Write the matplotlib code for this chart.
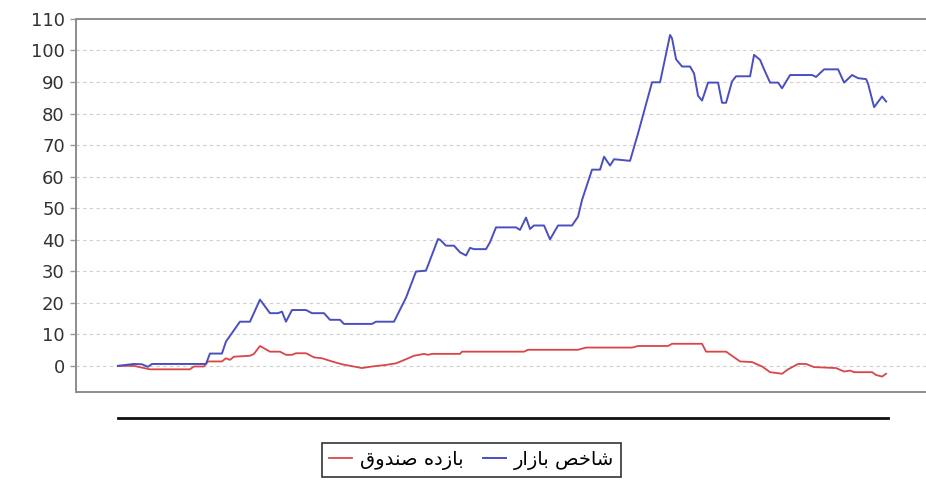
import matplotlib
matplotlib.use("Agg")
import matplotlib.pyplot as plt

# day index (trading day from start) and cumulative return (%)
market_days = [0, 8, 12, 15, 17, 44, 46, 52, 54, 61, 66, 71, 76, 80, 82, 84, 87, 94,
               97, 103, 106, 111, 113, 127, 129, 138, 144, 149, 154, 160, 161, 164,
               168, 171, 174, 176, 178, 184, 186, 189, 199, 201, 204, 206, 208, 213,
               216, 220, 227, 230, 232, 237, 241, 243, 246, 248, 256, 260, 267, 271,
               276, 277, 279, 282, 286, 288, 290, 292, 295, 300, 302, 304, 307, 309,
               316, 318, 321, 323, 326, 330, 332, 336, 347, 349, 353, 360, 363, 367,
               370, 374, 375, 378, 382, 384]
market_vals = [0.0, 0.6, 0.5, -0.3, 0.6, 0.6, 3.9, 3.9, 7.7, 14.0, 14.0, 21.0, 16.7,
               16.7, 17.2, 14.0, 17.7, 17.7, 16.7, 16.7, 14.6, 14.6, 13.3, 13.3, 14.0,
               14.0, 21.6, 29.9, 30.2, 40.2, 40.0, 38.1, 38.1, 36.0, 35.0, 37.4, 37.0,
               37.0, 39.2, 43.9, 43.9, 43.1, 47.0, 43.4, 44.5, 44.5, 40.1, 44.5, 44.5,
               47.3, 52.6, 62.2, 62.2, 66.3, 63.5, 65.5, 65.0, 73.7, 89.9, 89.9, 104.9,
               103.8, 97.2, 94.9, 94.9, 92.7, 85.6, 84.1, 89.8, 89.8, 83.4, 83.4, 90.2,
               91.8, 91.8, 98.6, 97.0, 94.0, 89.8, 89.8, 88.0, 92.2, 92.2, 91.6, 94.0,
               94.0, 89.8, 92.2, 91.2, 90.9, 89.4, 82.0, 85.4, 83.8]

fund_days = [0, 8, 16, 36, 38, 43, 45, 52, 54, 56, 58, 66, 68, 71, 76, 81, 84, 87,
             89, 94, 98, 102, 107, 112, 122, 127, 134, 139, 144, 148, 153, 155, 157,
             171, 172, 203, 205, 230, 234, 257, 260, 275, 277, 292, 294, 304, 311,
             317, 322, 326, 332, 335, 340, 344, 348, 352, 359, 363, 366, 368, 377,
             379, 382, 384]
fund_vals = [0.0, 0.0, -1.1, -1.1, -0.2, -0.2, 1.4, 1.4, 2.4, 1.9, 2.9, 3.2, 3.8, 6.3,
             4.5, 4.5, 3.5, 3.5, 4.0, 4.0, 2.7, 2.4, 1.4, 0.5, -0.7, -0.2, 0.3, 0.8,
             2.1, 3.2, 3.8, 3.5, 3.8, 3.8, 4.5, 4.5, 5.1, 5.1, 5.8, 5.8, 6.3, 6.3, 7.0,
             7.0, 4.5, 4.5, 1.4, 1.2, -0.2, -2.0, -2.5, -1.1, 0.6, 0.6, -0.4, -0.5,
             -0.7, -1.8, -1.5, -2.0, -2.0, -2.9, -3.4, -2.5]

y_ticks = list(range(0, 111, 10))

label_market = "شاخص بازار"
label_fund = "بازده صندوق"

# presentation forms: isolated, final, initial, medial
FORMS = {
    "ا": ("\uFE8D", "\uFE8E", None, None),
    "ب": ("\uFE8F", "\uFE90", "\uFE91", "\uFE92"),
    "خ": ("\uFEA5", "\uFEA6", "\uFEA7", "\uFEA8"),
    "د": ("\uFEA9", "\uFEAA", None, None),
    "ر": ("\uFEAD", "\uFEAE", None, None),
    "ز": ("\uFEAF", "\uFEB0", None, None),
    "ش": ("\uFEB5", "\uFEB6", "\uFEB7", "\uFEB8"),
    "ص": ("\uFEB9", "\uFEBA", "\uFEBB", "\uFEBC"),
    "ق": ("\uFED5", "\uFED6", "\uFED7", "\uFED8"),
    "ن": ("\uFEE5", "\uFEE6", "\uFEE7", "\uFEE8"),
    "ه": ("\uFEE9", "\uFEEA", "\uFEEB", "\uFEEC"),
    "و": ("\uFEED", "\uFEEE", None, None),
}


def shape_rtl(text):
    """Crude Arabic-script shaping + reversal, matplotlib has no bidi."""
    out = []
    for i, ch in enumerate(text):
        if ch not in FORMS:
            out.append(ch)
            continue
        prev = text[i - 1] if i > 0 else ""
        nxt = text[i + 1] if i + 1 < len(text) else ""
        join_prev = prev in FORMS and FORMS[prev][2] is not None
        join_next = FORMS[ch][2] is not None and nxt in FORMS
        iso, fin, ini, med = FORMS[ch]
        if join_prev and join_next:
            out.append(med)
        elif join_prev:
            out.append(fin)
        elif join_next:
            out.append(ini)
        else:
            out.append(iso)
    return "".join(out[::-1])


plt.rcParams["font.family"] = ["DejaVu Sans"]

fig = plt.figure(figsize=(9.26, 4.84), dpi=100)
ax = fig.add_axes([0.082, 0.19, 0.93, 0.771])

ax.plot(fund_days, fund_vals, color="#d8464a", linewidth=1.3, label=shape_rtl(label_fund))
ax.plot(market_days, market_vals, color="#4a4fbf", linewidth=1.4, label=shape_rtl(label_market))

ax.set_xlim(-21, 409.5)
ax.set_ylim(-8.3, 110)
ax.set_yticks(y_ticks)
ax.set_xticks([])
ax.tick_params(axis="y", labelsize=13, labelcolor="#333333", color="#999999",
               length=4, width=1, pad=4)
ax.yaxis.grid(True, color="#cfcfcf", linestyle=(0, (3, 3)), linewidth=0.8)
ax.set_axisbelow(True)
for side in ("left", "bottom", "top"):
    ax.spines[side].set_color("#8c8c8c")
    ax.spines[side].set_linewidth(1.4)
ax.spines["right"].set_visible(False)

# category axis drawn below the plot box
axx = fig.add_axes([0.082, 0.136, 0.93, 0.001], sharex=ax)
for side in ("left", "right", "top"):
    axx.spines[side].set_visible(False)
axx.spines["bottom"].set_color("#111111")
axx.spines["bottom"].set_linewidth(2)
axx.spines["bottom"].set_bounds(market_days[0], market_days[-1] + 1)
axx.set_yticks([])
axx.tick_params(axis="x", bottom=False, labelbottom=False)
axx.patch.set_visible(False)

handles, labels = ax.get_legend_handles_labels()
leg = fig.legend(handles, labels, loc="center", bbox_to_anchor=(0.509, 0.049),
                 ncol=2, fontsize=14, frameon=True, fancybox=False,
                 handlelength=1.2, handletextpad=0.4, columnspacing=1.0,
                 borderpad=0.35)
leg.get_frame().set_edgecolor("#000000")
leg.get_frame().set_linewidth(1.2)

fig.savefig("out.png", dpi=100)
